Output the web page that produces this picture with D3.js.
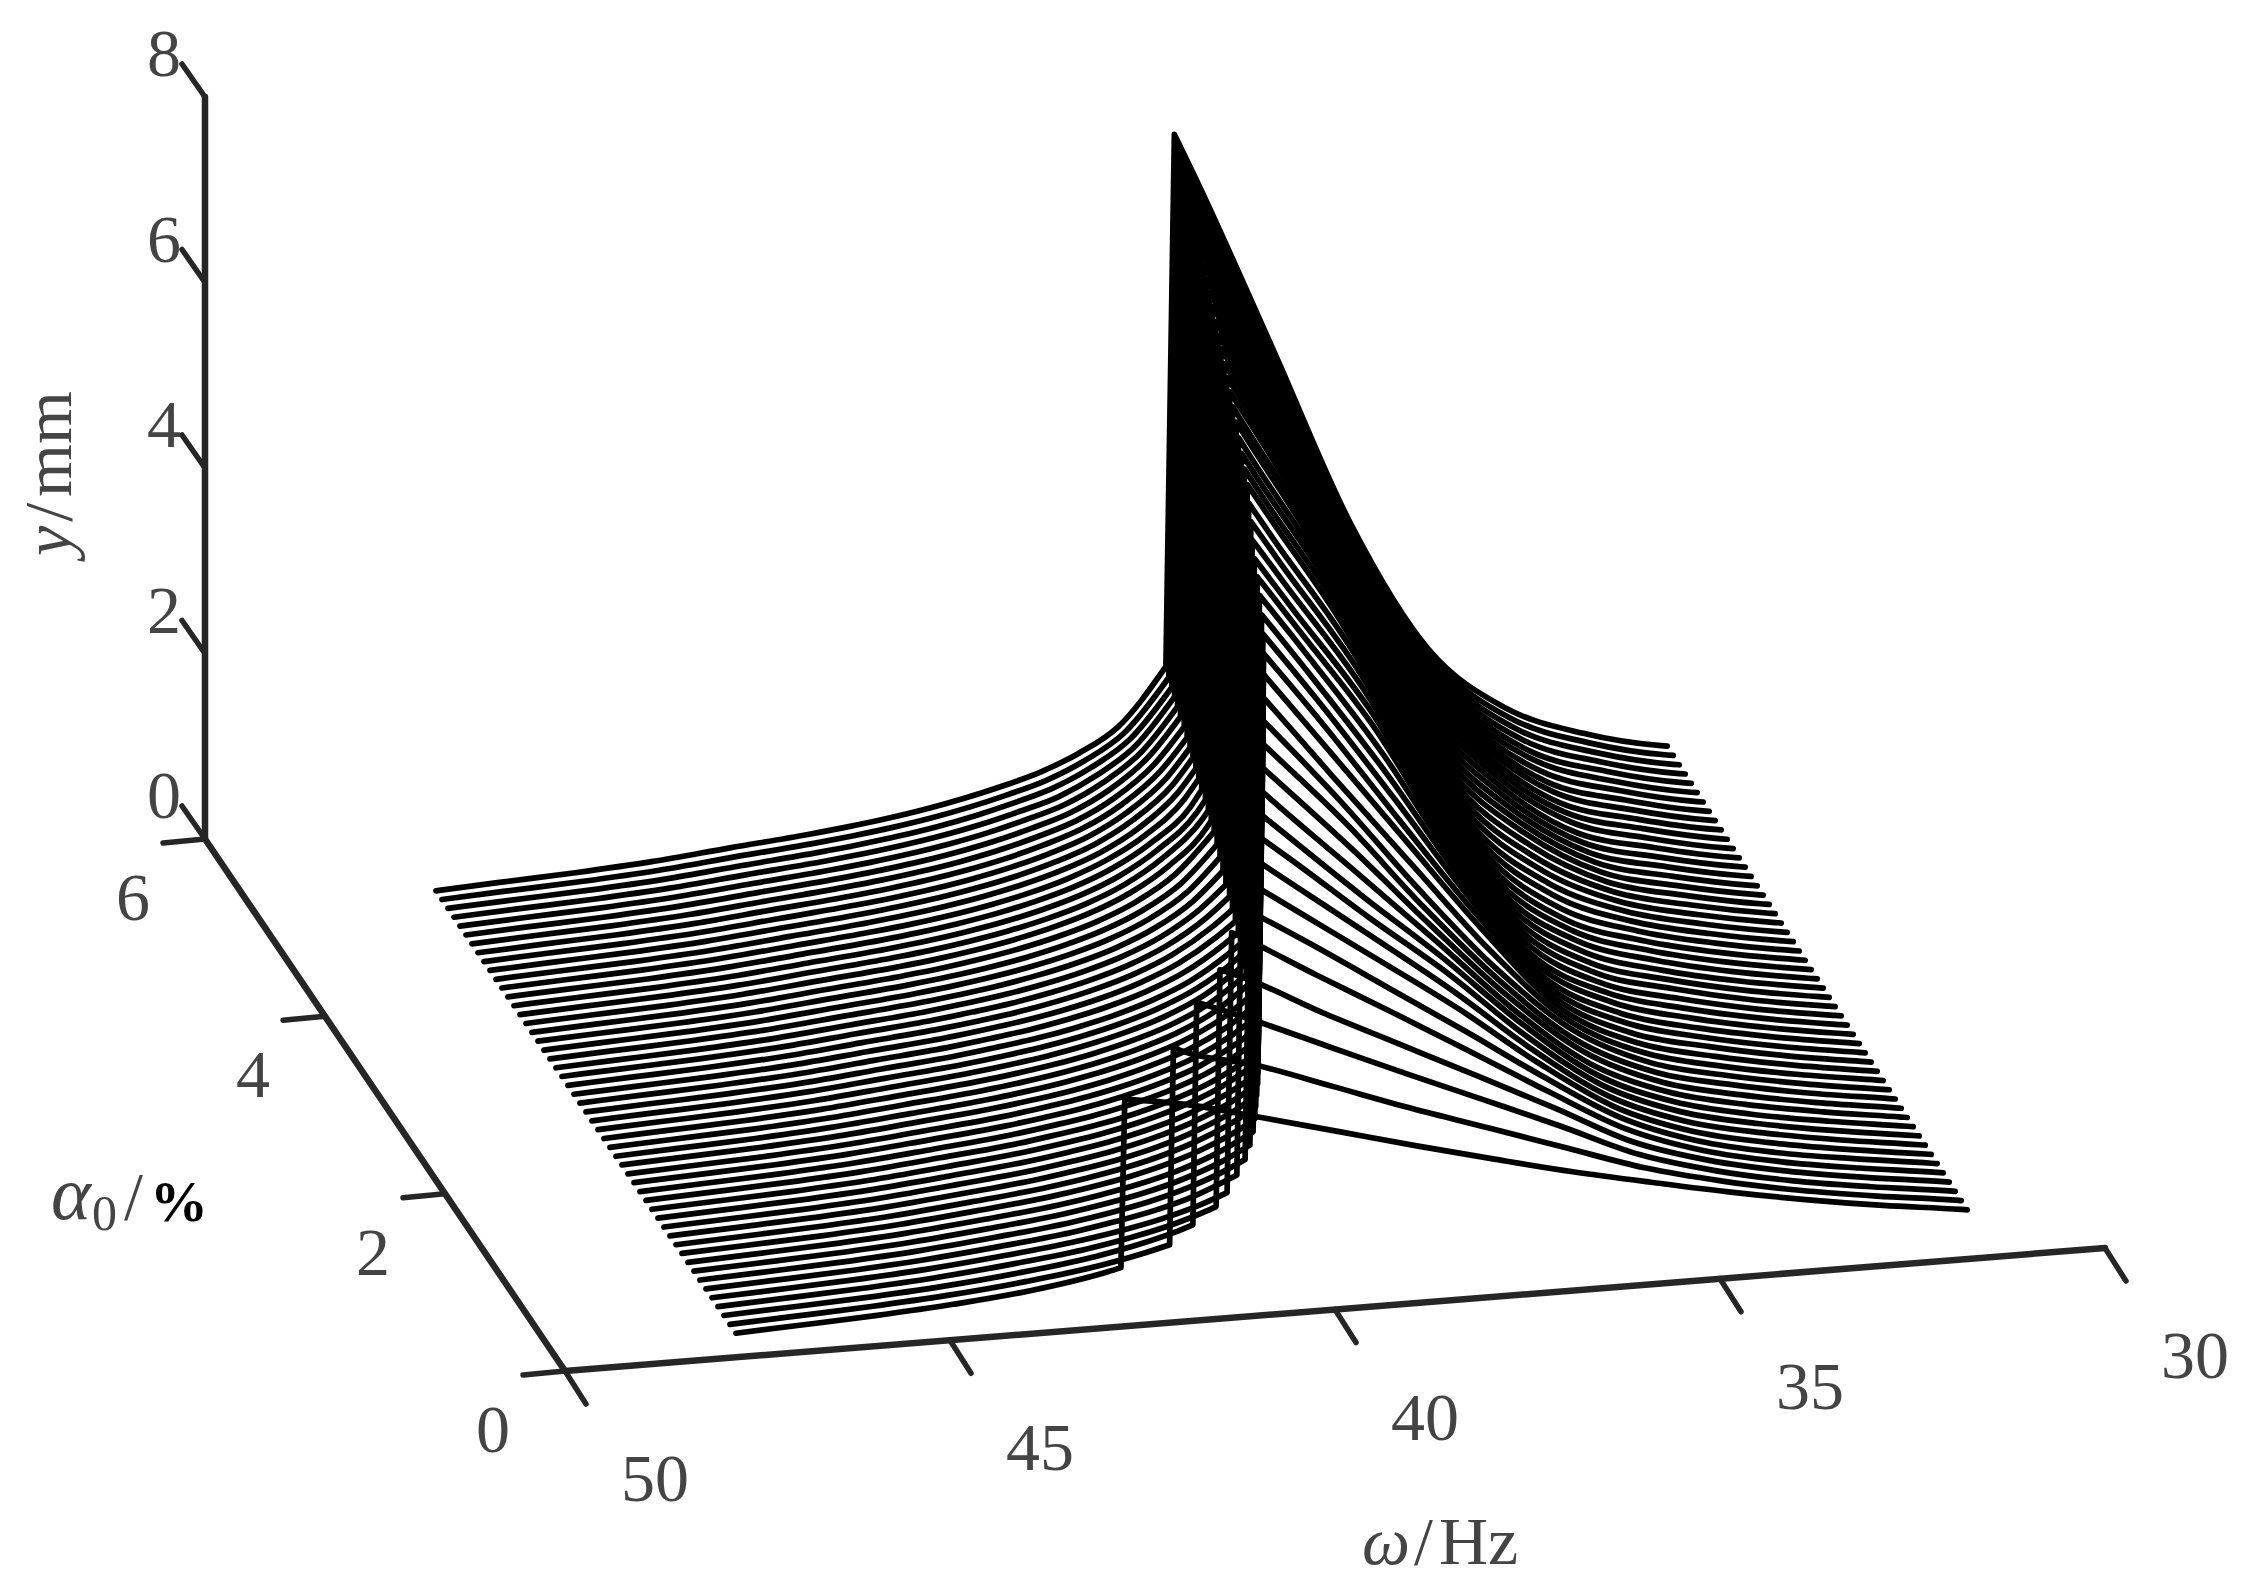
<!DOCTYPE html>
<html><head><meta charset="utf-8">
<script src="https://cdn.jsdelivr.net/npm/d3@7/dist/d3.min.js"></script>
<style>html,body{margin:0;background:#fff}svg{display:block}text{font-family:"Liberation Serif",serif;fill:#444}</style>
</head><body><svg id="c" width="2243" height="1595"></svg>
<script>
// ---- tick labels
const omegaTicks=[50,45,40,35,30];
const alphaTicks=[0,2,4,6];
const yTicks=[0,2,4,6,8];
// ---- one curve per alpha value
const alphaValues=[0,.1,.2,.3,.4,.5,.6,.7,.8,.9,1,1.1,1.2,1.3,1.4,1.5,1.6,1.7,1.8,1.9,2,2.1,2.2,2.3,2.4,2.5,2.6,2.7,2.8,2.9,3,3.1,3.2,3.3,3.4,3.5,3.6,3.7,3.8,3.9,4,4.1,4.2,4.3,4.4,4.5,4.6,4.7,4.8,4.9,5];
// jump: lower and upper end of every curve's jump
const jumpLowOmega=[42.78,42.07,41.69,41.31,41.09,40.885,40.70,40.56,40.44,40.34,40.25,40.16,40.07,39.99,39.91,39.83,39.75,39.69,39.63,39.58,39.53,39.49,39.44,39.38,39.33,39.27,39.23,39.19,39.15,39.11,39.08,39.04,39.00,38.96,38.92,38.88,38.84,38.80,38.77,38.73,38.69,38.65,38.61,38.57,38.53,38.50,38.46,38.42,38.38,38.34,38.30];
const jumpTopOmega=[42.73,42.02,41.64,41.26,41.03,40.83,40.64,40.50,40.38,40.28,40.18,40.09,40.00,39.92,39.84,39.76,39.68,39.61,39.55,39.50,39.45,39.41,39.36,39.30,39.25,39.19,39.15,39.11,39.07,39.02,38.99,38.95,38.91,38.87,38.83,38.79,38.75,38.71,38.67,38.63,38.59,38.55,38.51,38.47,38.43,38.40,38.36,38.32,38.28,38.23,38.19];
const jumpLowY=[.636,.74,.835,.91,.95,1.03,1.09,1.14,1.18,1.22,1.25,1.27,1.29,1.3,1.32,1.34,1.36,1.38,1.4,1.42,1.44,1.46,1.47,1.48,1.5,1.51,1.53,1.55,1.58,1.62,1.65,1.7,1.75,1.79,1.83,1.85,1.86,1.88,1.89,1.91,1.92,1.94,1.95,1.96,1.98,1.99,2,2.01,2.01,2.02,2.04];
const jumpTopY=[2.45,2.875,3.23,3.46,3.75,3.92,4.07,4.22,4.37,4.51,4.65,4.8,4.95,5.1,5.25,5.4,5.52,5.63,5.74,5.85,5.95,6.05,6.15,6.25,6.35,6.45,6.52,6.59,6.66,6.73,6.8,6.86,6.92,6.97,7.03,7.08,7.13,7.19,7.24,7.29,7.34,7.39,7.43,7.48,7.52,7.56,7.6,7.64,7.68,7.72,7.77];
// amplitude on the high-frequency (left) branch, one array per omega, indexed by curve
const leftA=[.26,.26,.26,.26,.26,.26,.26,.26,.26,.26,.258,.258,.258,.258,.258,.258,.258,.258,.258,.258,.256,.256,.256,.256,.256,.256,.256,.256,.256,.256,.254,.254,.254,.254,.254,.254,.254,.254,.254,.254,.252,.252,.252,.252,.252,.252,.252,.252,.252,.252,.25];
const leftB=[.29,.29,.29,.29,.29,.29,.29,.29,.29,.29,.289,.289,.289,.289,.289,.289,.289,.289,.289,.289,.288,.288,.288,.288,.288,.288,.288,.288,.288,.288,.287,.287,.287,.287,.287,.287,.287,.287,.287,.287,.286,.286,.286,.286,.286,.286,.286,.286,.286,.286,.285];
const leftC=[.33,.33,.33,.33,.33,.33,.33,.33,.33,.33,.329,.329,.329,.329,.329,.329,.329,.329,.329,.329,.328,.328,.328,.328,.328,.328,.328,.328,.328,.328,.327,.327,.327,.327,.327,.327,.327,.327,.327,.327,.326,.326,.326,.326,.326,.326,.326,.326,.326,.326,.325];
const leftD=[.385,.385,.385,.385,.385,.385,.385,.385,.385,.385,.384,.384,.384,.384,.384,.384,.384,.384,.384,.384,.383,.383,.383,.383,.383,.383,.383,.383,.383,.383,.382,.382,.382,.382,.382,.382,.382,.382,.382,.382,.381,.381,.381,.381,.381,.381,.381,.381,.381,.381,.38];
const leftE=[.465,.465,.465,.465,.465,.465,.465,.465,.465,.465,.464,.464,.464,.464,.464,.464,.464,.464,.464,.464,.463,.463,.463,.463,.463,.463,.463,.463,.463,.463,.462,.462,.462,.462,.462,.462,.462,.462,.462,.462,.461,.461,.461,.461,.461,.461,.461,.461,.461,.461,.46];
const leftF=[.603,.579,.577,.569,.565,.565,.563,.562,.561,.56,.558,.557,.555,.554,.553,.551,.55,.55,.549,.549,.548,.547,.547,.546,.545,.544,.544,.544,.544,.544,.544,.544,.544,.544,.544,.544,.544,.543,.543,.542,.542,.541,.541,.54,.54,.539,.539,.538,.538,.537,.537];
const leftG=[null,.662,.658,.644,.634,.635,.632,.63,.628,.626,.622,.62,.618,.616,.614,.612,.61,.608,.606,.604,.602,.601,.6,.6,.599,.599,.598,.598,.597,.597,.596,.596,.595,.595,.594,.594,.593,.593,.593,.592,.592,.591,.59,.589,.588,.587,.586,.585,.585,.584,.583];
const leftH=[null,null,.766,.739,.723,.722,.719,.715,.711,.708,.703,.698,.694,.689,.685,.68,.678,.676,.674,.672,.67,.668,.666,.664,.662,.66,.66,.66,.659,.659,.659,.659,.659,.659,.659,.659,.658,.657,.656,.654,.653,.651,.65,.648,.647,.645,.644,.643,.642,.64,.639];
const leftI=[null,null,null,.869,.841,.84,.835,.828,.82,.815,.808,.8,.793,.785,.778,.77,.767,.764,.76,.757,.754,.751,.748,.745,.742,.739,.739,.738,.738,.738,.737,.737,.737,.737,.737,.737,.735,.733,.731,.729,.727,.725,.723,.72,.718,.716,.714,.712,.71,.708,.706];
const leftJ=[null,null,null,null,null,1.01,.994,.982,.97,.962,.951,.94,.925,.91,.9,.888,.882,.877,.872,.867,.862,.857,.852,.848,.843,.838,.838,.837,.837,.836,.835,.835,.835,.836,.836,.836,.833,.83,.827,.823,.82,.817,.814,.81,.807,.804,.801,.798,.795,.792,.789];
const leftK=[null,null,null,null,null,null,null,null,null,1.17,1.153,1.13,1.11,1.09,1.07,1.049,1.04,1.03,1.02,1.013,1.006,.998,.99,.985,.978,.971,.97,.97,.968,.967,.965,.965,.965,.966,.966,.966,.961,.956,.952,.947,.942,.937,.932,.927,.922,.917,.912,.907,.902,.896,.89];
const leftL=[null,null,null,null,null,null,null,null,null,null,null,null,null,null,1.31,1.28,1.265,1.25,1.235,1.22,1.21,1.198,1.185,1.172,1.16,1.148,1.147,1.146,1.145,1.144,1.142,1.142,1.142,1.143,1.143,1.143,1.135,1.127,1.12,1.112,1.1,1.09,1.08,1.07,1.06,1.05,1.04,1.03,1.025,1.017,1.01];
const leftM=[null,null,null,null,null,null,null,null,null,null,null,null,null,null,null,null,null,null,null,null,null,null,null,1.45,1.43,1.41,1.405,1.4,1.4,1.4,1.4,1.4,1.4,1.4,1.4,1.4,1.39,1.375,1.36,1.345,1.33,1.32,1.305,1.29,1.275,1.26,1.245,1.23,1.215,1.197,1.18];
const leftN=[null,null,null,null,null,null,null,null,null,null,null,null,null,null,null,null,null,null,null,null,null,null,null,null,null,null,null,null,null,null,null,null,null,null,null,1.8,1.77,1.74,1.71,1.7,1.68,1.66,1.64,1.62,1.6,1.58,1.55,1.52,1.49,1.46,1.43];
// amplitude on the low-frequency (right) branch
const rightA=[2.34,2.83];
const rightB=[2.13,2.6,3,3.35,3.71];
const rightC=[1.91,2.3,2.64,2.91,3.22,3.46,3.67,3.87,4.07,4.25,4.45,4.67,4.89];
const rightD=[1.69,2,2.28,2.5,2.74,2.92,3.1,3.25,3.38,3.51,3.67,3.84,4.02,4.17,4.32,4.53,4.72,4.89,5.05,5.21,5.35,5.48,5.63,5.78,5.93,6.1,6.21,6.33,6.45,6.59,6.7,6.82];
const rightE=[1.48,1.72,1.93,2.09,2.25,2.38,2.52,2.62,2.72,2.8,2.88,2.96,3.05,3.16,3.32,3.48,3.6,3.75,3.9,4.05,4.2,4.32,4.44,4.56,4.68,4.8,4.9,5,5.09,5.19,5.28,5.38,5.48,5.58,5.67,5.77,5.87,5.97,6.07,6.17,6.27,6.36,6.45,6.55,6.64,6.73,6.83,6.93,7.04,7.15,7.27];
const rightF=[1.28,1.44,1.58,1.68,1.76,1.83,1.89,1.94,1.99,2.04,2.08,2.13,2.18,2.24,2.34,2.45,2.52,2.59,2.66,2.73,2.8,2.88,2.96,3.04,3.12,3.2,3.27,3.34,3.41,3.48,3.55,3.63,3.71,3.79,3.87,3.95,4.04,4.13,4.22,4.31,4.4,4.49,4.58,4.68,4.77,4.87,4.97,5.07,5.17,5.27,5.37];
const rightG=[1.1,1.16,1.21,1.25,1.29,1.32,1.34,1.36,1.38,1.4,1.42,1.45,1.47,1.5,1.52,1.54,1.56,1.58,1.6,1.63,1.65,1.69,1.73,1.77,1.81,1.85,1.9,1.95,2,2.05,2.1,2.16,2.22,2.28,2.34,2.4,2.46,2.52,2.58,2.64,2.7,2.76,2.82,2.88,2.94,3,3.08,3.16,3.24,3.33,3.42];
const rightH=[.93,.95,.965,.98,.99,1,1.01,1.02,1.03,1.04,1.05,1.06,1.07,1.08,1.09,1.1,1.11,1.125,1.135,1.15,1.16,1.17,1.185,1.2,1.22,1.24,1.26,1.28,1.31,1.35,1.39,1.43,1.47,1.51,1.55,1.58,1.61,1.64,1.67,1.7,1.73,1.76,1.79,1.81,1.83,1.85,1.88,1.91,1.94,1.97,2];
const rightI=[.78,.785,.79,.8,.805,.81,.82,.83,.835,.84,.85,.86,.87,.875,.88,.89,.9,.905,.91,.92,.93,.94,.95,.955,.96,.97,.98,.99,1,1.01,1.02,1.03,1.04,1.05,1.06,1.07,1.08,1.09,1.1,1.12,1.13,1.14,1.16,1.17,1.19,1.21,1.22,1.24,1.26,1.28,1.3];
const rightJ=[.65,.655,.66,.666,.671,.676,.681,.686,.692,.697,.702,.707,.712,.718,.723,.728,.733,.738,.744,.749,.754,.759,.764,.77,.775,.78,.787,.794,.802,.809,.816,.823,.83,.838,.845,.852,.859,.866,.874,.881,.888,.895,.902,.91,.917,.924,.931,.938,.946,.953,.96];
const rightK=[.54,.544,.548,.552,.556,.56,.564,.568,.572,.576,.58,.584,.588,.592,.596,.6,.604,.608,.612,.616,.62,.624,.628,.632,.636,.64,.645,.65,.654,.659,.664,.669,.674,.678,.683,.688,.693,.698,.702,.707,.712,.717,.722,.726,.731,.736,.741,.746,.75,.755,.76];
const rightL=[.53,.534,.538,.542,.546,.55,.554,.558,.562,.566,.57,.574,.578,.582,.586,.59,.594,.598,.602,.606,.61,.614,.618,.622,.626,.63,.635,.64,.644,.649,.654,.659,.664,.668,.673,.678,.683,.688,.692,.697,.702,.707,.712,.716,.721,.726,.731,.736,.74,.745,.75];

const leftColumns=[[47.78,leftA],[46.98,leftB],[45.97,leftC],[44.96,leftD],[43.96,leftE],[42.95,leftF],[42.45,leftG],[41.94,leftH],[41.44,leftI],[40.94,leftJ],[40.43,leftK],[39.93,leftL],[39.43,leftM],[38.92,leftN]];
const rightColumns=[[41.94,rightA],[40.94,rightB],[39.93,rightC],[38.92,rightD],[37.91,rightE],[36.91,rightF],[35.9,rightG],[34.89,rightH],[33.89,rightI],[32.88,rightJ],[31.87,rightK],[31.79,rightL]];

// ---- oblique projection built from linear scales
const omegaX=d3.scaleLinear().domain([50,30]).range([565,2105]);
const omegaY=d3.scaleLinear().domain([50,30]).range([1371,1248]);
const alphaX=d3.scaleLinear().domain([0,6]).range([0,-360]);
const alphaY=d3.scaleLinear().domain([0,6]).range([0,-532]);
const heightY=d3.scaleLinear().domain([0,8]).range([0,-742]);
const project=(w,a,y)=>[omegaX(w)+alphaX(a),omegaY(w)+alphaY(a)+heightY(y)];

const svg=d3.select("#c");
const axisColor="#262626";
const axisG=svg.append("g").attr("stroke",axisColor).attr("fill","none").attr("stroke-linecap","round");
const seg=(p,q,w)=>axisG.append("line").attr("x1",p[0]).attr("y1",p[1]).attr("x2",q[0]).attr("y2",q[1]).attr("stroke-width",w);
seg(project(50,0,0),project(30,0,0),6.5);
seg(project(50,6,0),project(50,0,0),6.5);
seg(project(50,6,0),project(50,6,8),6.5);
omegaTicks.forEach(w=>{const p=project(w,0,0);seg(p,[p[0]+21,p[1]+33],5.5);});
alphaTicks.forEach(a=>{const p=project(50,a,0);seg(p,[p[0]-42,p[1]+4],5.5);});
yTicks.forEach(y=>{const p=project(50,6,y);seg(p,[p[0]-23,p[1]-33],5.5);});

const labelG=svg.append("g").attr("font-size",68).attr("text-anchor","middle");
const lab=(p,dx,dy,t)=>labelG.append("text").attr("x",p[0]+dx).attr("y",p[1]+dy+23).text(t);
omegaTicks.forEach(w=>lab(project(w,0,0),90,107,w));
alphaTicks.forEach(a=>lab(project(50,a,0),-72,58,a));
yTicks.forEach(y=>lab(project(50,6,y),-41,-44,y));

// axis titles
const t1=svg.append("text").attr("font-size",68).attr("x",1362).attr("y",1564);
t1.append("tspan").attr("font-style","italic").text("ω");
t1.append("tspan").attr("dx",4).text("/");
t1.append("tspan").attr("dx",6).text("Hz");
const t2=svg.append("text").attr("font-size",68).attr("transform","translate(71,556) rotate(-90)");
t2.append("tspan").attr("font-style","italic").text("y");
t2.append("tspan").attr("dx",4).text("/");
t2.append("tspan").attr("dx",6).text("mm");
svg.append("text").attr("font-size",76).attr("font-style","italic").attr("x",51).attr("y",1219).text("α");
svg.append("text").attr("font-size",50).attr("x",92).attr("y",1230).text("0");
svg.append("text").attr("font-size",68).attr("x",124).attr("y",1219).text("/");
svg.append("text").attr("font-size",58).attr("font-weight","bold").attr("x",150).attr("y",1221).style("fill","#000").text("%");

// curves
const lineGen=d3.line().curve(d3.curveMonotoneX);
const curves=alphaValues.map((a,i)=>{
  const left=leftColumns.filter(([w,c])=>c[i]!=null&&w>jumpLowOmega[i]).map(([w,c])=>project(w,a,c[i]));
  left.push(project(jumpLowOmega[i],a,jumpLowY[i]));
  const right=[project(jumpTopOmega[i],a,jumpTopY[i])].concat(
    rightColumns.filter(([w,c])=>c[i]!=null&&w<jumpTopOmega[i]).map(([w,c])=>project(w,a,c[i])));
  return lineGen(left)+"L"+lineGen(right).slice(1);
});
svg.append("g").attr("fill","none").attr("stroke","#000").attr("stroke-width",5.7)
  .attr("stroke-linecap","round").attr("stroke-linejoin","round")
  .selectAll("path").data(curves).join("path").attr("d",d=>d);
</script></body></html>
